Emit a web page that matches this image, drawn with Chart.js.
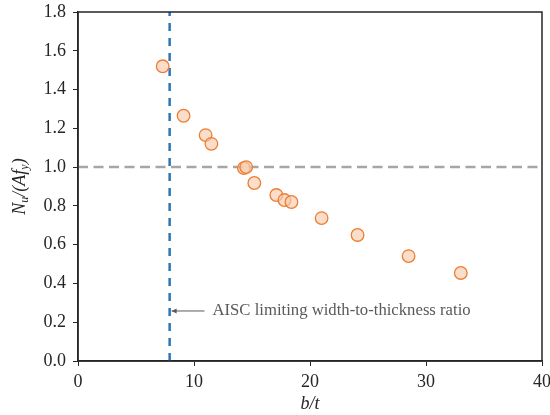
<!DOCTYPE html>
<html>
<head>
<meta charset="utf-8">
<script src="https://cdn.jsdelivr.net/npm/chart.js@4/dist/chart.umd.min.js"></script>
<style>
  html, body { margin: 0; padding: 0; background: #fff; }
  #wrap { width: 550px; height: 415px; }
</style>
</head>
<body>
<div id="wrap"><canvas id="scatter"></canvas></div>
<script>
// values
var bt = [7.3, 9.1, 11.0, 11.5, 14.3, 14.5, 15.2, 17.1, 17.8, 18.4, 21.0, 24.1, 28.5, 33.0];
var ratio = [1.52, 1.265, 1.165, 1.12, 0.995, 1.0, 0.918, 0.856, 0.83, 0.82, 0.737, 0.65, 0.541, 0.454];
var aiscLimit = 7.9;
var yieldLevel = 1.0;
var noteY = 0.258;
var noteText = "AISC limiting width-to-thickness ratio";

var serif = "'Liberation Serif', 'Times New Roman', serif";

var points = bt.map(function (x, i) { return { x: x, y: ratio[i] }; });

var extras = {
  id: "extras",
  afterDraw: function (chart) {
    var c = chart.ctx, a = chart.chartArea;
    var xs = chart.scales.x, ys = chart.scales.y;
    c.save();
    // frame
    c.strokeStyle = "#262626";
    c.lineWidth = 1.5;
    c.strokeRect(a.left, a.top, a.right - a.left, a.bottom - a.top);

    // arrow + note
    var x0 = xs.getPixelForValue(aiscLimit) + 2;
    var x1 = xs.getPixelForValue(aiscLimit + 3);
    var yy = ys.getPixelForValue(noteY);
    c.strokeStyle = "#595959";
    c.fillStyle = "#595959";
    c.lineWidth = 1;
    c.beginPath();
    c.moveTo(x1, yy);
    c.lineTo(x0, yy);
    c.stroke();
    c.beginPath();
    c.moveTo(x0, yy);
    c.lineTo(x0 + 5, yy - 2.5);
    c.lineTo(x0 + 5, yy + 2.5);
    c.closePath();
    c.fill();
    c.font = "16.7px " + serif;
    c.textBaseline = "middle";
    c.fillText(noteText, x1 + 8, yy);

    // y title with subscripts
    c.fillStyle = "#262626";
    c.translate(20, (a.top + a.bottom) / 2);
    c.rotate(-Math.PI / 2);
    var big = "italic 18px " + serif, small = "italic 12px " + serif;
    var parts = [["N", big, 0], ["u", small, 5], ["/(", big, 0], ["Af", big, 0], ["y", small, 5], [")", big, 0]];
    var w = 0;
    parts.forEach(function (p) { c.font = p[1]; w += c.measureText(p[0]).width; });
    var px = -w / 2;
    c.textBaseline = "middle";
    parts.forEach(function (p) {
      c.font = p[1];
      c.fillText(p[0], px, p[2]);
      px += c.measureText(p[0]).width;
    });
    c.restore();
  }
};

new Chart(document.getElementById("scatter"), {
  type: "scatter",
  data: {
    datasets: [
      {
        label: "AISC",
        data: [{ x: aiscLimit, y: 0 }, { x: aiscLimit, y: 1.8 }],
        showLine: true,
        borderColor: "#2e75b6",
        borderWidth: 2.5,
        borderDash: [8, 7],
        pointRadius: 0,
        order: 2,
      },
      {
        label: "yield",
        data: [{ x: 0, y: yieldLevel }, { x: 40, y: yieldLevel }],
        showLine: true,
        borderColor: "#a6a6a6",
        borderWidth: 2.5,
        borderDash: [10, 5.5],
        pointRadius: 0,
        order: 3,
      },
      {
        label: "tests",
        data: points,
        backgroundColor: "rgba(248,203,173,0.65)",
        borderColor: "#ed7d31",
        borderWidth: 1.3,
        pointRadius: 6.3,
        order: 1,
      },
    ],
  },
  options: {
    responsive: true,
    maintainAspectRatio: false,
    animation: false,
    layout: { padding: { top: 12, right: 8, left: 0, bottom: 0 } },
    plugins: { legend: { display: false }, tooltip: { enabled: false } },
    scales: {
      x: {
        type: "linear",
        min: 0,
        max: 40,
        ticks: { stepSize: 10, color: "#262626", font: { family: serif, size: 18 }, padding: 5 },
        grid: { drawOnChartArea: false, tickLength: 5, color: "#262626" },
        border: { color: "#262626", width: 1.5 },
        title: { display: true, text: "b/t", color: "#262626", font: { family: serif, size: 18, style: "italic" }, padding: 0 },
        afterFit: function (s) { s.height = 54; s.paddingLeft = 0; s.paddingRight = 0; },
      },
      y: {
        min: 0,
        max: 1.8,
        ticks: {
          stepSize: 0.2,
          color: "#262626",
          font: { family: serif, size: 18 },
          padding: 7,
          callback: function (v) { return v.toFixed(1); },
        },
        grid: { drawOnChartArea: false, tickLength: 5, color: "#262626" },
        border: { color: "#262626", width: 1.5 },
        afterFit: function (s) { s.width = 78; s.paddingTop = 0; s.paddingBottom = 0; },
      },
    },
  },
  plugins: [extras],
});
</script>
</body>
</html>
